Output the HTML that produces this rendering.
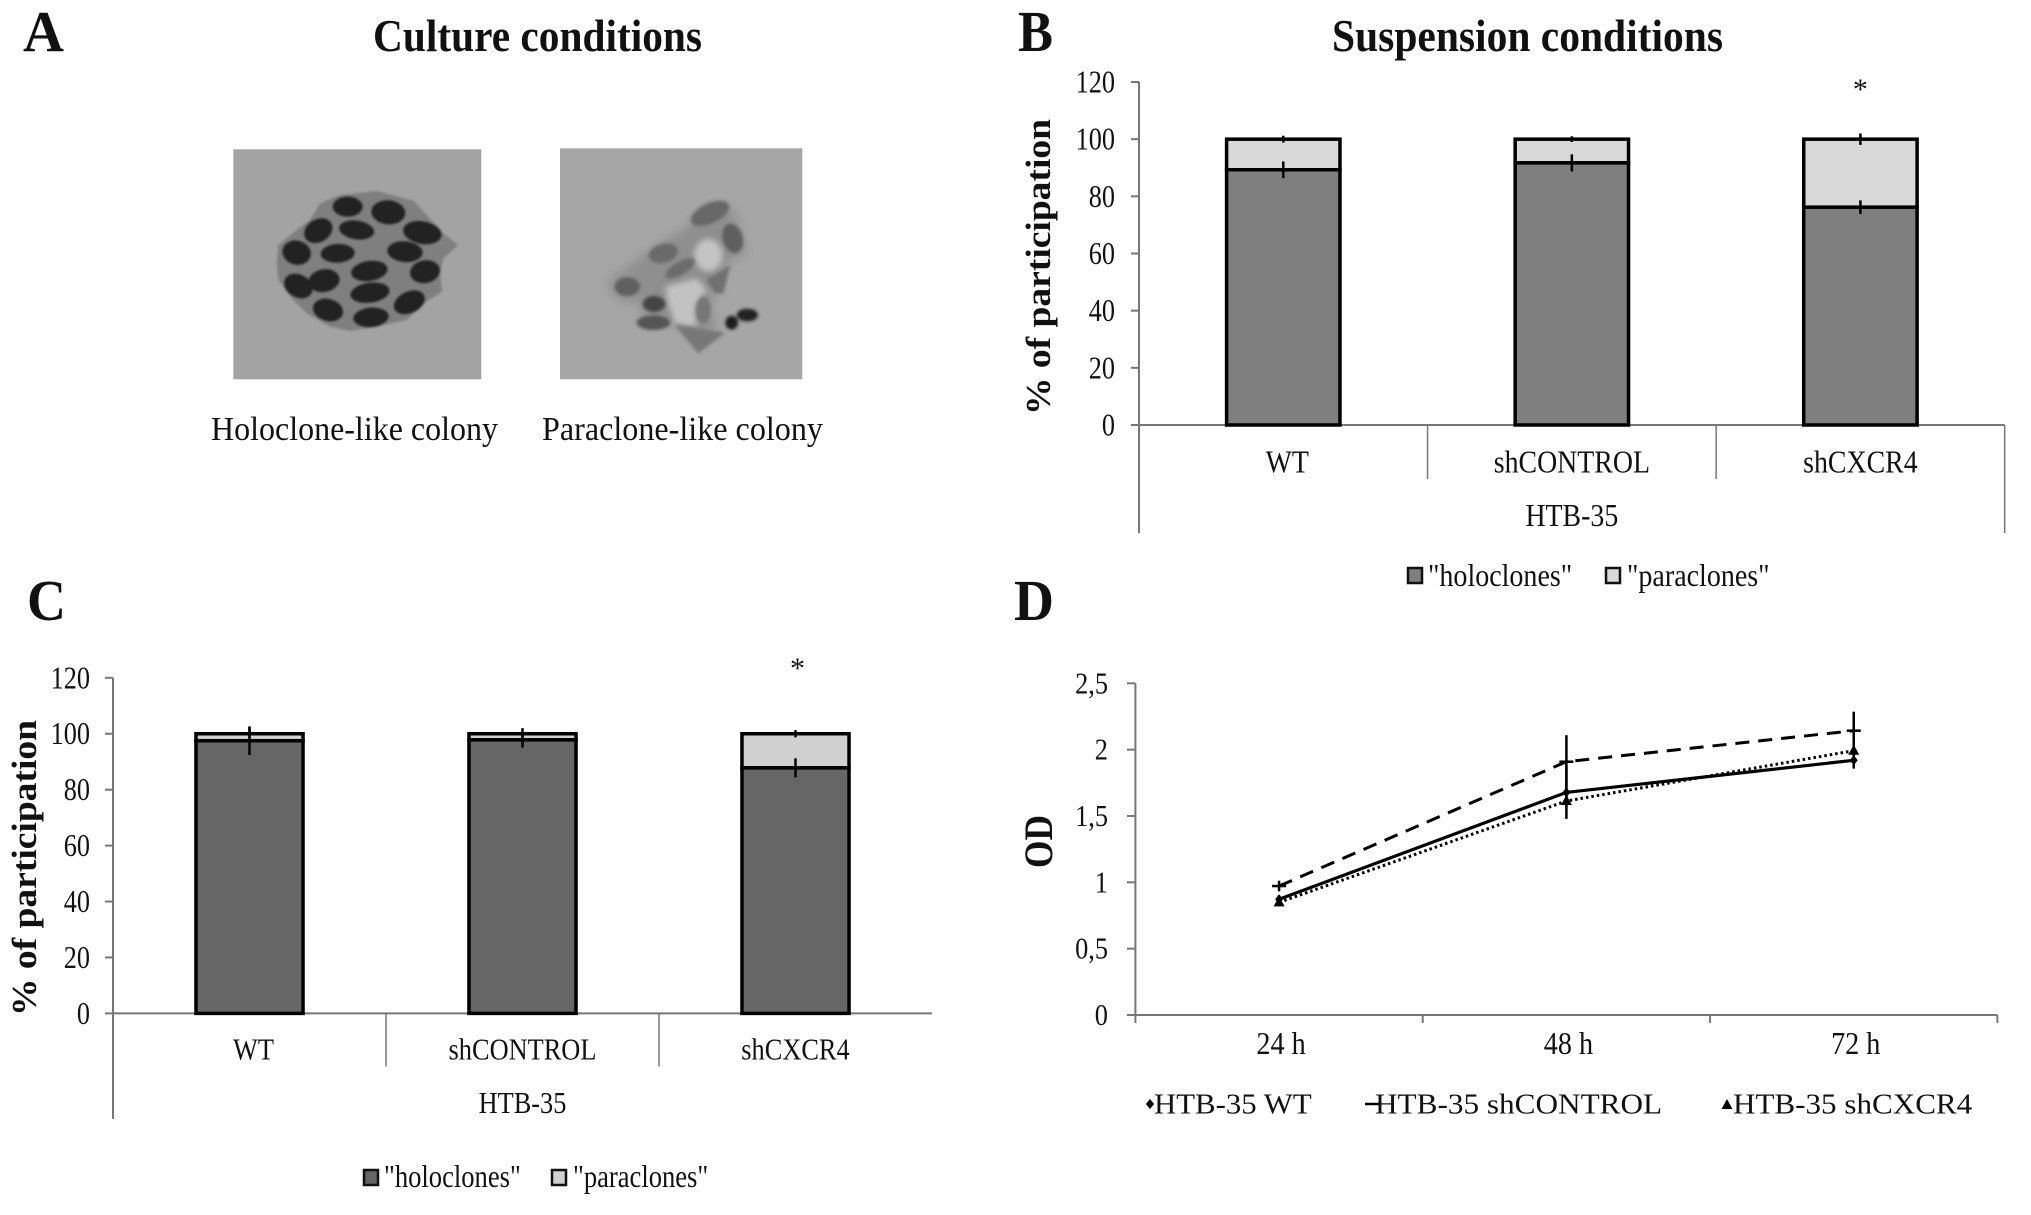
<!DOCTYPE html>
<html lang="en">
<head>
<meta charset="utf-8">
<title>Culture and suspension conditions figure</title>
<style>
html,body{margin:0;padding:0;background:#fff;width:2031px;height:1215px;overflow:hidden}
svg{display:block}
text{font-family:"Liberation Serif",serif;fill:#111}
</style>
</head>
<body>
<svg id="figure" xmlns="http://www.w3.org/2000/svg" width="2031" height="1215" viewBox="0 0 2031 1215">
<defs>
<filter id="soft0" x="-30%" y="-30%" width="160%" height="160%"><feGaussianBlur stdDeviation="3"/></filter>
<filter id="soft1" x="-30%" y="-30%" width="160%" height="160%"><feGaussianBlur stdDeviation="5"/></filter>
<filter id="soft2" x="-40%" y="-40%" width="180%" height="180%"><feGaussianBlur stdDeviation="9"/></filter>
<filter id="soft3" x="-40%" y="-40%" width="180%" height="180%"><feGaussianBlur stdDeviation="16"/></filter>
</defs>
<rect width="2031" height="1215" fill="#fff"/>

<text x="23" y="51" font-size="58" font-weight="bold" textLength="41" lengthAdjust="spacingAndGlyphs">A</text>
<text x="1018" y="51" font-size="58" font-weight="bold" textLength="35" lengthAdjust="spacingAndGlyphs">B</text>
<text x="27" y="620" font-size="58" font-weight="bold" textLength="39" lengthAdjust="spacingAndGlyphs">C</text>
<text x="1014" y="620" font-size="58" font-weight="bold" textLength="40" lengthAdjust="spacingAndGlyphs">D</text>

<text x="373" y="51" font-size="46" font-weight="bold" textLength="329" lengthAdjust="spacingAndGlyphs">Culture conditions</text>
<text x="1332" y="51" font-size="46" font-weight="bold" textLength="391" lengthAdjust="spacingAndGlyphs">Suspension conditions</text>

<g transform="translate(210 130) scale(0.3333)">
  <rect x="70" y="58" width="744" height="690" fill="#a3a3a3"/>
  <polygon filter="url(#soft0)" fill="#7f7f7f" points="205,345 260,300 300,270 330,220 390,195 500,183 610,212 650,255 700,310 745,345 700,385 690,430 697,485 640,520 590,570 500,590 420,603 360,590 290,550 250,510 205,450 200,400"/>
  <g filter="url(#soft0)" fill="#232323">
    <ellipse cx="413" cy="230" rx="45" ry="30"/>
    <ellipse cx="535" cy="247" rx="51" ry="36" transform="rotate(5 535 247)"/>
    <ellipse cx="325" cy="302" rx="45" ry="34" transform="rotate(-30 325 302)"/>
    <ellipse cx="440" cy="300" rx="53" ry="28" transform="rotate(8 440 300)"/>
    <ellipse cx="637" cy="308" rx="58" ry="34" transform="rotate(10 637 308)"/>
    <ellipse cx="260" cy="368" rx="43" ry="36" transform="rotate(15 260 368)"/>
    <ellipse cx="383" cy="370" rx="51" ry="28" transform="rotate(-3 383 370)"/>
    <ellipse cx="585" cy="365" rx="53" ry="31" transform="rotate(5 585 365)"/>
    <ellipse cx="478" cy="423" rx="55" ry="30" transform="rotate(-8 478 423)"/>
    <ellipse cx="645" cy="425" rx="45" ry="34" transform="rotate(-10 645 425)"/>
    <ellipse cx="342" cy="452" rx="47" ry="34" transform="rotate(-10 342 452)"/>
    <ellipse cx="265" cy="468" rx="45" ry="34" transform="rotate(30 265 468)"/>
    <ellipse cx="480" cy="488" rx="59" ry="30" transform="rotate(-8 480 488)"/>
    <ellipse cx="598" cy="517" rx="49" ry="32" transform="rotate(-25 598 517)"/>
    <ellipse cx="354" cy="540" rx="46" ry="33" transform="rotate(15 354 540)"/>
    <ellipse cx="483" cy="562" rx="53" ry="29" transform="rotate(-5 483 562)"/>
  </g>
</g>

<g transform="translate(550 130) scale(0.3333)">
  <rect x="30" y="55" width="727" height="693" fill="#a6a6a6"/>
  <polygon filter="url(#soft3)" fill="#8f8f8f" points="170,460 250,395 400,295 490,225 550,235 590,370 530,400 480,530 500,600 445,650 385,590 270,560 280,520 200,510"/>
  <ellipse filter="url(#soft2)" cx="475" cy="375" rx="42" ry="48" fill="#c4c4c4"/>
  <polygon filter="url(#soft2)" fill="#c2c2c2" points="345,470 440,445 470,480 435,530 440,590 375,580 355,520"/>
  <g filter="url(#soft1)">
    <ellipse cx="232" cy="470" rx="38" ry="28" fill="#5f5f5f"/>
    <ellipse cx="340" cy="370" rx="45" ry="28" fill="#6a6a6a" transform="rotate(-15 340 370)"/>
    <ellipse cx="480" cy="250" rx="62" ry="30" fill="#686868" transform="rotate(-25 480 250)"/>
    <ellipse cx="548" cy="325" rx="30" ry="45" fill="#5e5e5e" transform="rotate(-15 548 325)"/>
    <ellipse cx="390" cy="415" rx="50" ry="20" fill="#6c6c6c" transform="rotate(-30 390 415)"/>
    <polygon points="540,405 520,490 495,490 470,450" fill="#6f6f6f"/>
    <ellipse cx="460" cy="540" rx="22" ry="40" fill="#777"/>
    <ellipse cx="312" cy="522" rx="34" ry="24" fill="#444"/>
    <ellipse cx="310" cy="578" rx="50" ry="22" fill="#555"/>
    <polygon points="375,585 525,608 445,670" fill="#777"/>
    <ellipse cx="545" cy="578" rx="19" ry="21" fill="#1e1e1e"/>
    <ellipse cx="592" cy="555" rx="32" ry="19" fill="#222"/>
  </g>
</g>

<text x="211" y="440" font-size="34" textLength="287" lengthAdjust="spacingAndGlyphs">Holoclone-like colony</text>
<text x="542" y="440" font-size="34" textLength="281" lengthAdjust="spacingAndGlyphs">Paraclone-like colony</text>

<text transform="translate(1050 415) rotate(-90)" font-size="35" font-weight="bold" textLength="296" lengthAdjust="spacingAndGlyphs">% of participation</text>
<text transform="translate(36 1016) rotate(-90)" font-size="35" font-weight="bold" textLength="296" lengthAdjust="spacingAndGlyphs">% of participation</text>
<text transform="translate(1052 868) rotate(-90)" font-size="40" font-weight="bold" textLength="53" lengthAdjust="spacingAndGlyphs">OD</text>

<g id="panel-b"></g>
<g id="panel-c"></g>
<g id="panel-d"></g>
</svg>

<script>
// Panel B: suspension conditions
const bCategories = ["WT", "shCONTROL", "shCXCR4"];
const bHoloclones = [89.3, 91.7, 76.2];
const bParaclones = [10.7, 8.3, 23.8];
const bHoloError = [2.9, 3.0, 2.4];
const bParaError = [1.2, 1.0, 2.0];
const bTickValues = [0, 20, 40, 60, 80, 100, 120];

// Panel C: culture conditions
const cCategories = ["WT", "shCONTROL", "shCXCR4"];
const cHoloclones = [97.5, 97.8, 87.8];
const cParaclones = [2.5, 2.2, 12.2];
const cHoloError = [5.1, 2.8, 3.4];
const cParaError = [2.6, 2.0, 1.3];
const cTickValues = [0, 20, 40, 60, 80, 100, 120];

// Panel D: growth curves
const dTimes = ["24 h", "48 h", "72 h"];
const dWT = [0.872, 1.678, 1.92];
const dControl = [0.972, 1.909, 2.143];
const dCXCR4 = [0.849, 1.613, 1.992];
const dWTError = [0.03, 0.2, 0.063];
const dControlError = [0.04, 0.2, 0.143];
const dCXCR4Error = [0.03, 0.05, 0.05];
const dTickValues = [0, 0.5, 1, 1.5, 2, 2.5];
const dTickLabels = ["0", "0,5", "1", "1,5", "2", "2,5"];

const NS = "http://www.w3.org/2000/svg";

function make(parent, tag, name, attrs) {
  const el = document.createElementNS(NS, tag);
  
  
  for (const k in attrs) el.setAttribute(k, attrs[k]);
  parent.appendChild(el);
  return el;
}

function label(parent, name, str, x, y, size, anchor, squeeze) {
  const el = make(parent, "text", name, {x: x, y: y, "font-size": size, "text-anchor": anchor});
  el.textContent = str;
  const natural = el.getComputedTextLength();
  el.setAttribute("textLength", (natural * squeeze).toFixed(1));
  el.setAttribute("lengthAdjust", "spacingAndGlyphs");
  return el;
}

function line(parent, name, x1, y1, x2, y2, stroke, width, dash) {
  const attrs = {x1: x1, y1: y1, x2: x2, y2: y2, stroke: stroke, "stroke-width": width};
  if (dash) attrs["stroke-dasharray"] = dash;
  return make(parent, "line", name, attrs);
}

function drawStacked(p) {
  const g = p.root;
  const y = v => p.y0 - (v / 120) * (p.y0 - p.y120);
  const band = (p.right - p.left) / p.categories.length;
  const xc = i => p.left + band * (i + 0.5);
  const barW = band * 0.405;

  p.ticks.forEach(t => {
    line(g, "y-tick-" + t, p.tickLeft, y(t), p.left, y(t), "#777", 2);
    label(g, "y-tick-label-" + t, String(t), p.tickTextRight, y(t) + 10.5, 32, "end", 0.82);
  });
  line(g, "y-axis-line", p.left, y(120), p.left, p.outerBottom, "#777", 2);
  line(g, "x-axis-line", p.left, p.y0, p.right, p.y0, "#777", 2);
  for (let i = 1; i < p.categories.length; i++) {
    const xd = p.left + band * i;
    line(g, "category-divider-" + i, xd, p.y0, xd, p.dividerBottom, "#777", 1.5);
  }
  if (p.closeRight) {
    line(g, "right-boundary-line", p.right, p.y0, p.right, p.outerBottom, "#777", 1.5);
  }

  p.categories.forEach((c, i) => {
    const holTop = y(p.hol[i]);
    const paraTop = y(p.hol[i] + p.para[i]);
    make(g, "rect", "bar-paraclones-" + c, {x: xc(i) - barW / 2 + 1.75, y: paraTop, width: barW - 3.5, height: holTop - paraTop, fill: p.paraFill, stroke: "#000", "stroke-width": 3.5});
    make(g, "rect", "bar-holoclones-" + c, {x: xc(i) - barW / 2 + 1.75, y: holTop, width: barW - 3.5, height: p.y0 - holTop, fill: p.holFill, stroke: "#000", "stroke-width": 3.5});
    const top = p.hol[i] + p.para[i];
    line(g, "error-bar-paraclones-" + c, xc(i), y(top + p.paraErr[i]), xc(i), y(top - p.paraErr[i]), "#000", 2.5);
    line(g, "error-bar-holoclones-" + c, xc(i), y(p.hol[i] + p.holErr[i]), xc(i), y(p.hol[i] - p.holErr[i]), "#000", 2.5);
    label(g, "category-label-" + c, c, xc(i) + (i === 0 ? 4 : 0), p.catBaseline, p.catSize, "middle", p.catSqueeze);
  });

  label(g, "group-label-htb-35", "HTB-35", p.left + band * 1.5, p.groupBaseline, p.catSize, "middle", p.catSqueeze);
  label(g, "significance-star", "*", xc(2) + p.starShift, p.starBaseline, 30, "middle", 1);

  make(g, "rect", "legend-swatch-holoclones", {x: p.legendX1, y: p.legendY - 8, width: 14, height: 15, fill: p.holFill, stroke: "#111", "stroke-width": 2.5});
  label(g, "legend-label-holoclones", "\"holoclones\"", p.legendX1 + 20, p.legendBaseline, p.legendSize, "start", p.legendSqueeze);
  make(g, "rect", "legend-swatch-paraclones", {x: p.legendX2, y: p.legendY - 8, width: 14, height: 15, fill: p.paraFill, stroke: "#111", "stroke-width": 2.5});
  label(g, "legend-label-paraclones", "\"paraclones\"", p.legendX2 + 21, p.legendBaseline, p.legendSize, "start", p.legendSqueeze);
}

drawStacked({
  root: document.getElementById("panel-b"),
  categories: bCategories, hol: bHoloclones, para: bParaclones, holErr: bHoloError, paraErr: bParaError, ticks: bTickValues,
  left: 1139, right: 2004.7, y0: 425, y120: 82, tickLeft: 1131, tickTextRight: 1115,
  dividerBottom: 479, outerBottom: 533, catBaseline: 472.5, groupBaseline: 526, catSize: 32, catSqueeze: 0.87,
  starBaseline: 99, starShift: 0, holFill: "#7f7f7f", paraFill: "#d9d9d9", closeRight: true,
  legendX1: 1408, legendX2: 1606, legendY: 576, legendBaseline: 586, legendSize: 32, legendSqueeze: 0.875
});

drawStacked({
  root: document.getElementById("panel-c"),
  categories: cCategories, hol: cHoloclones, para: cParaclones, holErr: cHoloError, paraErr: cParaError, ticks: cTickValues,
  left: 113, right: 932, y0: 1013.4, y120: 677.8, tickLeft: 105, tickTextRight: 90,
  dividerBottom: 1066.5, outerBottom: 1119, catBaseline: 1059.5, groupBaseline: 1113, catSize: 31, catSqueeze: 0.85,
  starBaseline: 678, starShift: 2, holFill: "#666666", paraFill: "#d0d0d0", closeRight: false,
  legendX1: 364, legendX2: 552, legendY: 1178, legendBaseline: 1187, legendSize: 32, legendSqueeze: 0.83
});

(function drawLines() {
  const g = document.getElementById("panel-d");
  const left = 1135.4, right = 1997.4, y0 = 1015, yMax = 683.3;
  const band = (right - left) / dTimes.length;
  const x = i => left + band * (i + 0.5);
  const y = v => y0 - (v / 2.5) * (y0 - yMax);

  dTickValues.forEach((t, i) => {
    line(g, "y-tick-" + dTickLabels[i], 1127, y(t), left, y(t), "#777", 2);
    label(g, "y-tick-label-" + dTickLabels[i], dTickLabels[i], 1108, y(t) + 10, 31, "end", 0.85);
  });
  line(g, "y-axis-line", left, yMax, left, 1023, "#777", 2);
  line(g, "x-axis-line", left, y0, right, y0, "#777", 2);
  for (let i = 1; i <= dTimes.length; i++) {
    line(g, "x-tick-" + i, left + band * i, y0, left + band * i, 1023, "#777", 2);
  }
  dTimes.forEach((t, i) => {
    label(g, "x-tick-label-" + t, t, x(i) + 2, 1054, 32, "middle", 0.88);
  });

  function pts(values) {
    return values.map((v, i) => x(i).toFixed(1) + "," + y(v).toFixed(1)).join(" ");
  }

  function errors(name, values, errs) {
    values.forEach((v, i) => {
      line(g, name + "-error-bar-" + dTimes[i], x(i), y(v + errs[i]), x(i), y(v - errs[i]), "#000", 2.5);
    });
  }

  errors("wt", dWT, dWTError);
  errors("shcontrol", dControl, dControlError);
  errors("shcxcr4", dCXCR4, dCXCR4Error);

  make(g, "polyline", "line-htb-35-shcxcr4", {points: pts(dCXCR4), fill: "none", stroke: "#000", "stroke-width": 3, "stroke-dasharray": "2.5 3"});
  make(g, "polyline", "line-htb-35-shcontrol", {points: pts(dControl), fill: "none", stroke: "#000", "stroke-width": 3, "stroke-dasharray": "14 9"});
  make(g, "polyline", "line-htb-35-wt", {points: pts(dWT), fill: "none", stroke: "#000", "stroke-width": 3.2});

  function diamond(name, cx, cy) {
    make(g, "polygon", name, {points: [[cx, cy - 5], [cx + 4, cy], [cx, cy + 5], [cx - 4, cy]].join(" "), fill: "#000"});
  }
  function triangle(name, cx, cy) {
    make(g, "polygon", name, {points: [[cx, cy - 6], [cx + 5.5, cy + 4], [cx - 5.5, cy + 4]].join(" "), fill: "#000"});
  }
  dWT.forEach((v, i) => diamond("marker-wt-" + dTimes[i], x(i), y(v)));
  dControl.forEach((v, i) => line(g, "marker-shcontrol-" + dTimes[i], x(i) - 7, y(v), x(i) + 7, y(v), "#000", 2.5));
  dCXCR4.forEach((v, i) => triangle("marker-shcxcr4-" + dTimes[i], x(i), y(v)));

  diamond("legend-marker-wt", 1150, 1104);
  label(g, "legend-label-wt", "HTB-35 WT", 1154, 1113.4, 28, "start", 1.1);
  line(g, "legend-marker-shcontrol", 1365, 1104, 1380, 1104, "#000", 2.5);
  label(g, "legend-label-shcontrol", "HTB-35 shCONTROL", 1375, 1113.4, 28, "start", 1.115);
  triangle("legend-marker-shcxcr4", 1727, 1105);
  label(g, "legend-label-shcxcr4", "HTB-35 shCXCR4", 1733, 1113.4, 28, "start", 1.11);
})();
</script>
</body>
</html>
